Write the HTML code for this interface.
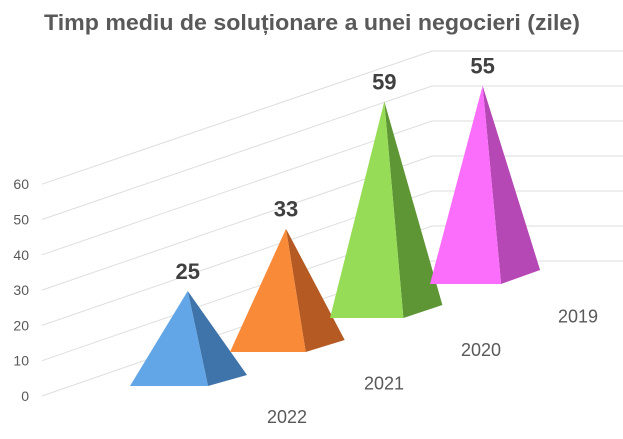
<!DOCTYPE html>
<html><head><meta charset="utf-8"><style>
html,body{margin:0;padding:0;background:#fff;}
svg{display:block;font-family:"Liberation Sans",sans-serif;}
</style></head><body>
<svg id="chart" width="623" height="439" viewBox="0 0 623 439" xmlns="http://www.w3.org/2000/svg">
<rect width="623" height="439" fill="#fff"/>
<text x="312" y="30" text-anchor="middle" font-size="22" font-weight="bold" fill="#595959" textLength="536" lengthAdjust="spacingAndGlyphs">Timp mediu de soluționare a unei negocieri (zile)</text>
<g id="grid"></g>
<g id="ticks"></g>
<g id="marks"></g>
<g id="cats"></g>
</svg>
<script>
const categories = ["2022", "2021", "2020", "2019"];
const values = [25, 33, 59, 55];
const tickValues = [0, 10, 20, 30, 40, 50, 60];
const frontColors = ["#62a6e8", "#f98a38", "#97dc56", "#fb6dfb"];
const sideColors = ["#3f74aa", "#b45a22", "#5e9535", "#b548b5"];

const NS = "http://www.w3.org/2000/svg";
function mk(tag, attrs, parent) {
  const e = document.createElementNS(NS, tag);
  for (const k in attrs) e.setAttribute(k, attrs[k]);
  parent.appendChild(e);
  return e;
}
// axis functions
function yLeft(v) { return 396 - v * 3.53; }
function yBack(v) { return 261 - v * 3.5; }
function baseLeftX(i) { return 130 + 100 * i; }
function baseY(i) { return 386 - 34 * i; }
function unitScale(i) { return 3.8 - 0.065 * i; }
function baseW(i) { return 78 - 2.3 * i; }

const grid = document.getElementById("grid");
const ticks = document.getElementById("ticks");
tickValues.forEach(v => {
  const l = mk("polyline", {points: `42,${yLeft(v)} 432,${yBack(v)} 623,${yBack(v)}`, fill: "none", stroke: "#dedede", "stroke-width": 1}, grid);
  
  
  const t = mk("text", {x: 29, y: yLeft(v) + 5, "text-anchor": "end", "font-size": 14, fill: "#595959"}, ticks);
  t.textContent = v;
  
  
});

const marks = document.getElementById("marks");
const cats = document.getElementById("cats");
values.forEach((v, i) => {
  const lx = baseLeftX(i), by = baseY(i), w = baseW(i);
  const rx = lx + w;
  const bx = rx + 39, bby = by - 11 - i;
  const ax = lx + w * 0.74, ay = by - v * unitScale(i);
  const g = mk("g", {}, marks);
  
  
  const side = mk("polygon", {points: `${rx},${by} ${bx},${bby} ${ax},${ay}`, fill: sideColors[i]}, g);
  
  
  const front = mk("polygon", {points: `${lx},${by} ${rx},${by} ${ax},${ay}`, fill: frontColors[i]}, g);
  
  
  const lab = mk("text", {x: ax, y: ay - 12, "text-anchor": "middle", "font-size": 22, "font-weight": "bold", fill: "#404040"}, g);
  lab.textContent = v;
  
  
  const c = mk("text", {x: 287 + 97 * i, y: 423 - 33.5 * i, "text-anchor": "middle", "font-size": 18, fill: "#595959"}, cats);
  c.textContent = categories[i];
  
  
});
</script>
</body></html>
